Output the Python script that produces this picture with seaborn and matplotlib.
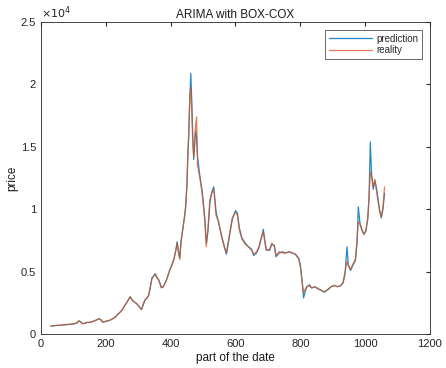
import pandas as pd
import numpy as np
import matplotlib
matplotlib.use("Agg")
import matplotlib.pyplot as plt
import seaborn as sns
from matplotlib.ticker import FuncFormatter

# day index ("part of the date") and prices
day = [30, 40, 50, 60, 70, 80, 90, 100, 110, 117, 122, 128, 135, 142, 150, 158, 165, 172,
       178, 184, 190, 196, 202, 208, 215, 222, 230, 238, 245, 252, 258, 264, 270, 275, 280,
       286, 292, 298, 304, 310, 315, 320, 326, 332, 337, 342, 347, 352, 357, 362, 367, 371,
       376, 380, 386, 392, 398, 404, 410, 416, 420, 424, 428, 432, 437, 442, 446, 450, 453,
       456, 459, 462, 465, 468, 471, 474, 477, 480, 483, 490, 497, 505, 510, 515, 521, 527,
       533, 540, 548, 557, 565, 572, 580, 590, 600, 606, 612, 620, 630, 640, 650, 656, 665,
       672, 678, 686, 690, 695, 705, 712, 720, 725, 735, 745, 755, 765, 775, 785, 795, 800,
       805, 810, 815, 820, 828, 835, 845, 855, 865, 874, 885, 895, 905, 915, 925, 932, 938,
       944, 948, 955, 962, 970, 975, 979, 984, 990, 996, 1002, 1008, 1012, 1016, 1020, 1025,
       1030, 1035, 1040, 1045, 1050, 1055, 1060]

reality = [650, 680, 700, 720, 750, 770, 790, 820, 900, 1080, 950, 820, 880, 950, 930, 1000,
           1080, 1150, 1250, 1150, 950, 1000, 1050, 1080, 1150, 1250, 1400, 1600, 1800, 2000,
           2300, 2500, 2800, 3000, 2750, 2600, 2500, 2350, 2150, 1950, 2400, 2700, 2900, 3100,
           3800, 4400, 4600, 4800, 4500, 4400, 4000, 3700, 3800, 3950, 4300, 4700, 5200, 5500,
           6000, 6800, 7300, 6500, 6000, 7500, 8300, 9200, 10000, 12000, 14500, 16400, 19000,
           19800, 18000, 15500, 14200, 15500, 16800, 17400, 13500, 12500, 11300, 9200, 7000,
           8500, 10800, 11300, 11600, 9500, 9000, 7800, 7000, 6500, 7800, 9300, 9800, 9500,
           8300, 7600, 7200, 7000, 6700, 6400, 6600, 7000, 7600, 8200, 7400, 6700, 6800, 7300,
           7000, 6300, 6600, 6500, 6500, 6600, 6500, 6400, 6000, 5400, 4300, 3300, 3600, 3800,
           3900, 3700, 3800, 3600, 3500, 3400, 3600, 3800, 3900, 3800, 3900, 4200, 5000, 5800,
           5500, 5200, 5600, 6000, 7600, 9000, 8800, 8300, 8000, 8300, 9300, 11000, 13000,
           12600, 11800, 12400, 11500, 10600, 9800, 9400, 10200, 11800]

prediction = [650, 670, 700, 715, 745, 770, 785, 815, 880, 1050, 1000, 850, 860, 940, 940,
              990, 1070, 1140, 1240, 1180, 980, 990, 1040, 1080, 1140, 1240, 1380, 1620, 1780,
              2000, 2280, 2500, 2780, 3000, 2800, 2620, 2500, 2380, 2180, 1980, 2300, 2700,
              2880, 3100, 3700, 4500, 4650, 4850, 4600, 4400, 4100, 3750, 3750, 3950, 4250,
              4750, 5200, 5600, 6000, 6700, 7400, 6700, 6100, 7300, 8400, 9300, 10200, 11800,
              14200, 16000, 18800, 20900, 18800, 16000, 14000, 15200, 16300, 15800, 14200,
              12700, 11500, 9400, 7300, 8200, 10500, 11400, 11800, 9800, 8900, 7900, 7100,
              6400, 7600, 9200, 9900, 9700, 8500, 7700, 7300, 7000, 6800, 6300, 6500, 6900,
              7500, 8400, 7600, 6800, 6700, 7200, 7100, 6200, 6500, 6600, 6500, 6600, 6500,
              6400, 6100, 5600, 4400, 2900, 3400, 3800, 3950, 3700, 3800, 3650, 3500, 3350,
              3550, 3800, 3900, 3800, 3900, 4100, 4800, 7000, 5600, 5100, 5500, 5900, 7300,
              10200, 8900, 8400, 8000, 8200, 9200, 10800, 15400, 12800, 11600, 12300, 11700,
              10800, 9900, 9300, 10000, 11300]

df = pd.DataFrame({"day": day, "reality": reality, "prediction": prediction})

sns.set_style("white")
plt.rcParams["font.family"] = ["Liberation Sans", "DejaVu Sans"]

fig = plt.figure(figsize=(4.46, 3.68), dpi=100)
ax = fig.add_axes([0.092, 0.092, 0.872, 0.848])

sns.lineplot(data=df, x="day", y="prediction", ax=ax, color="#0072BD", lw=0.9,
             label="prediction", alpha=0.85)
sns.lineplot(data=df, x="day", y="reality", ax=ax, color="#D95319", lw=0.9,
             label="reality", alpha=0.75)

ax.set_xlim(0, 1200)
ax.set_ylim(0, 25000)
ax.set_xticks(range(0, 1201, 200))
ax.set_yticks(range(0, 25001, 5000))
ax.yaxis.set_major_formatter(FuncFormatter(lambda v, p: "%g" % (v / 1e4)))
ax.tick_params(direction="in", length=3, labelsize=8, colors="#262626",
               top=True, right=True, labeltop=False, labelright=False)
for s in ax.spines.values():
    s.set_color("#262626")
    s.set_linewidth(0.6)

ax.text(0.0, 1.005, r"$\times10^4$", transform=ax.transAxes, fontsize=8,
        ha="left", va="bottom", color="#262626")
ax.set_title("ARIMA with BOX-COX", fontsize=8.5, color="#1a1a1a", pad=3)
ax.set_xlabel("part of the date", fontsize=8.5, color="#1a1a1a", labelpad=2)
ax.set_ylabel("price", fontsize=8.5, color="#1a1a1a", labelpad=2)

leg = ax.legend(loc="upper right", fontsize=7, frameon=True, fancybox=False,
                handlelength=4.5, borderpad=0.4, labelspacing=0.15, handletextpad=0.4,
                borderaxespad=0.8)
leg.get_frame().set_edgecolor("#262626")
leg.get_frame().set_linewidth(0.6)

fig.savefig("out.png", dpi=100)
